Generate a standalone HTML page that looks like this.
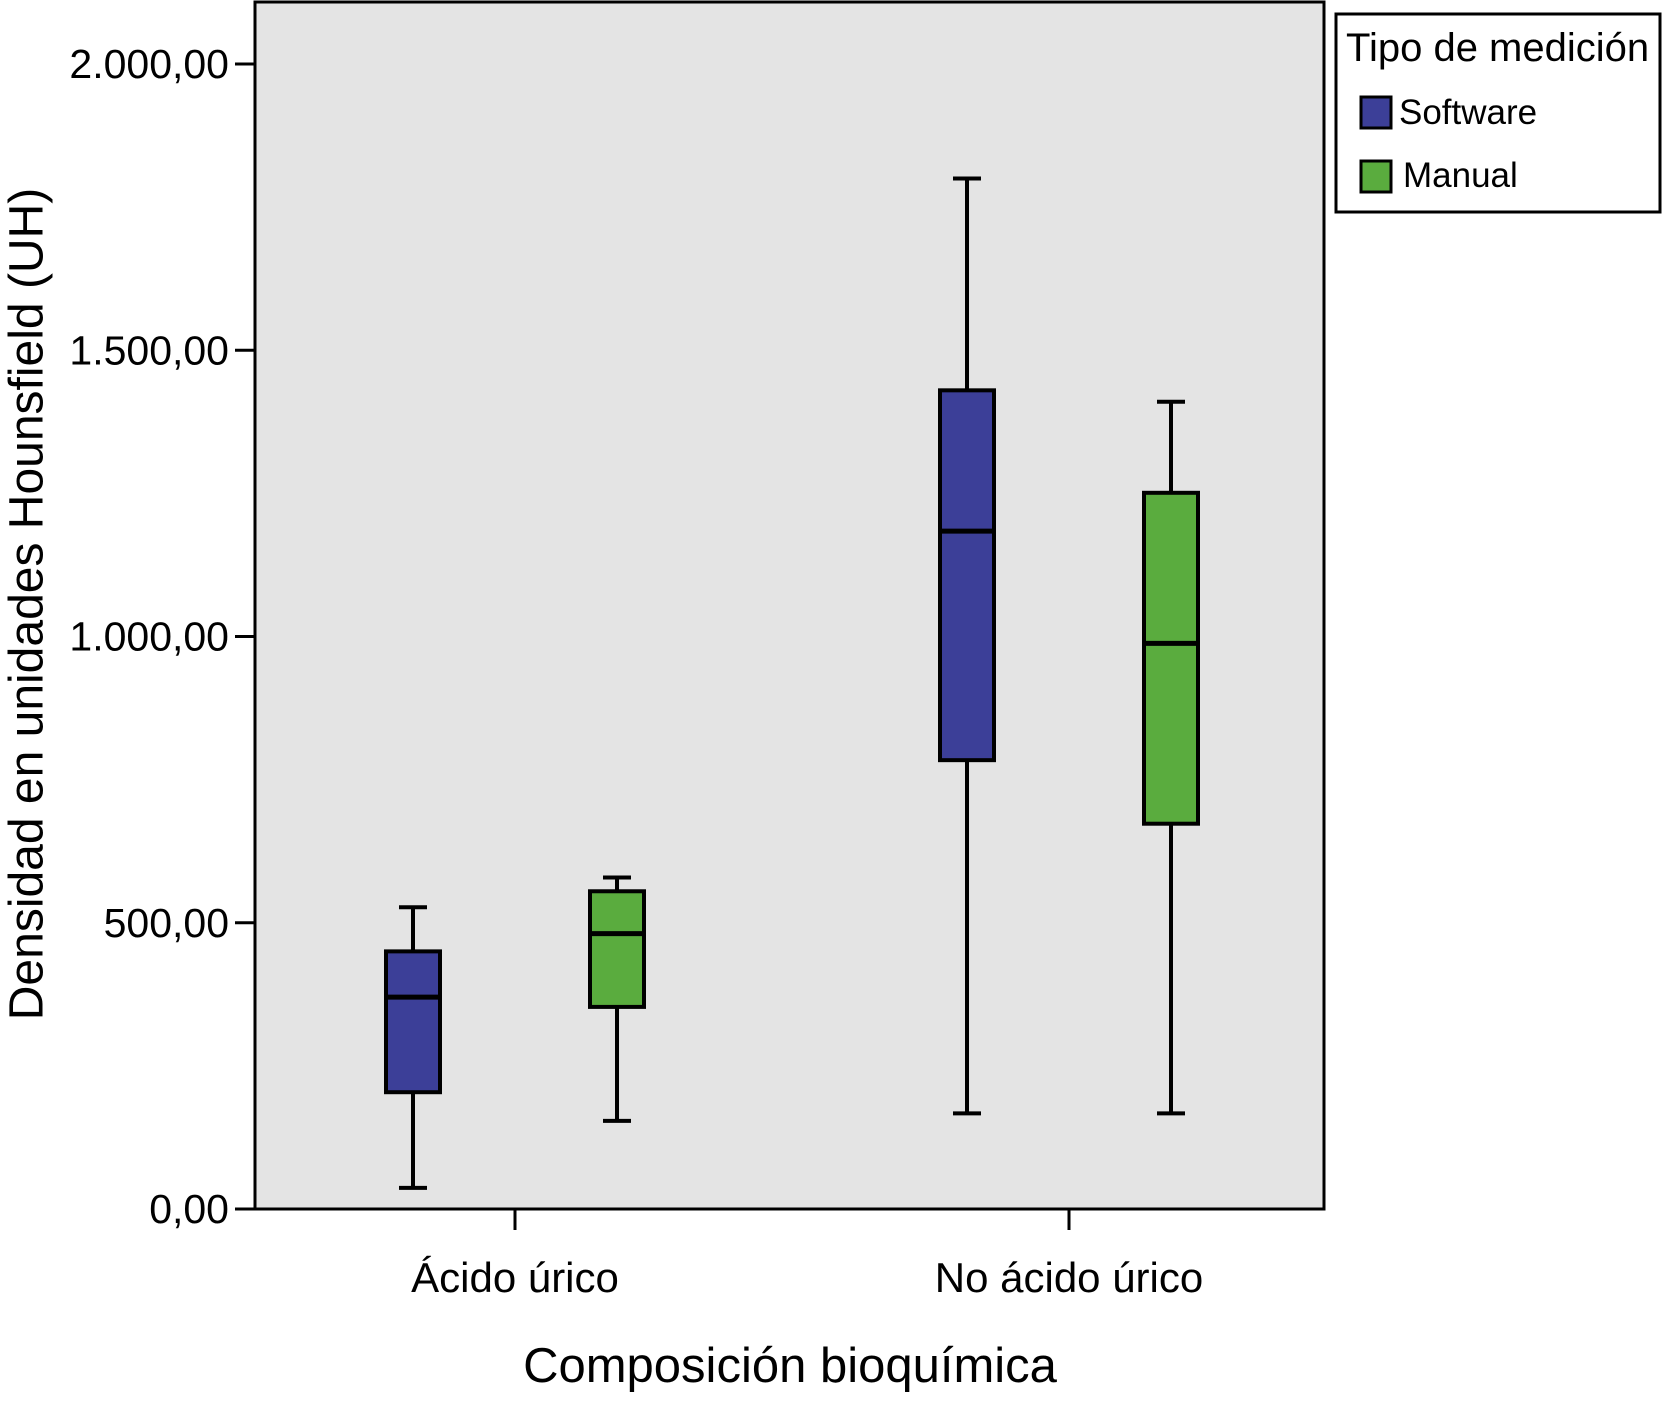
<!DOCTYPE html>
<html><head><meta charset="utf-8"><style>
body{margin:0;background:#fff;}
svg text{font-family:"Liberation Sans",sans-serif;fill:#000;}
</style></head><body>
<svg width="1662" height="1405" xmlns="http://www.w3.org/2000/svg" id="chart">
<rect x="255" y="2" width="1069" height="1207" fill="#e4e4e4" stroke="#000" stroke-width="3"/>
<g id="axes"></g>
<g id="boxes"></g>
<text x="30" y="604" font-size="48" text-anchor="middle" transform="rotate(-90 30 604)" dominant-baseline="middle">Densidad en unidades Hounsfield (UH)</text>
<text x="790" y="1382" font-size="49" text-anchor="middle">Composición bioquímica</text>
<g>
<rect x="1336" y="14" width="324" height="198" fill="#fff" stroke="#000" stroke-width="3"/>
<text x="1346" y="61" font-size="40">Tipo de medición</text>
<rect x="1361" y="97" width="30" height="31" fill="#3c3f98" stroke="#000" stroke-width="3"/>
<text x="1399" y="124" font-size="35">Software</text>
<rect x="1361" y="161" width="30" height="31" fill="#5aac3e" stroke="#000" stroke-width="3"/>
<text x="1403" y="187" font-size="35">Manual</text>
</g>
</svg>
<script>
const categories = ["Ácido úrico", "No ácido úrico"];
const seriesNames = ["Software", "Manual"];
const seriesColors = ["#3c3f98", "#5aac3e"];
const softwareMin = [37, 167];
const softwareQ1 = [204, 784];
const softwareMedian = [370, 1184];
const softwareQ3 = [450, 1430];
const softwareMax = [527, 1800];
const manualMin = [154, 167];
const manualQ1 = [353, 673];
const manualMedian = [481, 988];
const manualQ3 = [555, 1251];
const manualMax = [579, 1410];
const yTicks = [0, 500, 1000, 1500, 2000];
const yTickLabels = ["0,00", "500,00", "1.000,00", "1.500,00", "2.000,00"];

const NS = "http://www.w3.org/2000/svg";
const y = v => 1209 - v * 1145 / 2000;
const xCat = i => 515 + i * 554;
const xSeries = (i, s) => xCat(i) + (s === 0 ? -102 : 102);
function mk(tag, attrs, parent, text) {
  const e = document.createElementNS(NS, tag);
  for (const k in attrs) e.setAttribute(k, attrs[k]);
  if (text !== undefined) e.textContent = text;
  parent.appendChild(e);
  return e;
}
const axes = document.getElementById("axes");
const boxes = document.getElementById("boxes");
yTicks.forEach((t, i) => {
  const ln = mk("line", {x1: 235, x2: 255, y1: y(t), y2: y(t), stroke: "#000", "stroke-width": 3}, axes);
  
  
  const tx = mk("text", {x: 229, y: y(t) + 14, "font-size": 41, "text-anchor": "end"}, axes, yTickLabels[i]);
  
  
});
categories.forEach((c, i) => {
  const ln = mk("line", {x1: xCat(i), x2: xCat(i), y1: 1209, y2: 1230, stroke: "#000", "stroke-width": 3}, axes);
  
  
  const tx = mk("text", {x: xCat(i), y: 1292, "font-size": 42, "text-anchor": "middle"}, axes, c);
  
  
});
const series = [
  [softwareMin, softwareQ1, softwareMedian, softwareQ3, softwareMax],
  [manualMin, manualQ1, manualMedian, manualQ3, manualMax]
];
series.forEach((sv, s) => {
  categories.forEach((c, i) => {
    const cx = xSeries(i, s), hw = 27, cw = 14;
    const [mn, q1, md, q3, mx] = sv.map(a => a[i]);
    const g = mk("g", {}, boxes);
    
    
    mk("line", {x1: cx, x2: cx, y1: y(mx), y2: y(q3), stroke: "#000", "stroke-width": 4}, g);
    mk("line", {x1: cx, x2: cx, y1: y(q1), y2: y(mn), stroke: "#000", "stroke-width": 4}, g);
    mk("line", {x1: cx - cw, x2: cx + cw, y1: y(mx), y2: y(mx), stroke: "#000", "stroke-width": 4}, g);
    mk("line", {x1: cx - cw, x2: cx + cw, y1: y(mn), y2: y(mn), stroke: "#000", "stroke-width": 4}, g);
    mk("rect", {x: cx - hw, y: y(q3), width: 2 * hw, height: y(q1) - y(q3), fill: seriesColors[s], stroke: "#000", "stroke-width": 4}, g);
    mk("line", {x1: cx - hw, x2: cx + hw, y1: y(md), y2: y(md), stroke: "#000", "stroke-width": 5}, g);
  });
});
</script>
</body></html>
